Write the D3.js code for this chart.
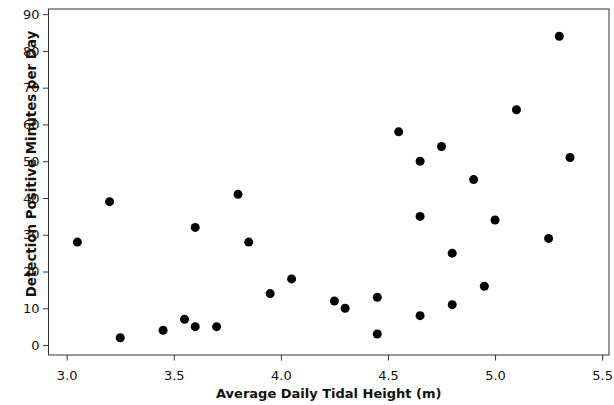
<!DOCTYPE html>
<html>
<head>
<meta charset="utf-8">
<script src="https://cdn.jsdelivr.net/npm/d3@7"></script>
<style>
  html, body { margin: 0; padding: 0; background: #fff; }
  svg { display: block; }
  .tick text { font-family: "DejaVu Sans", Verdana, sans-serif; font-size: 13px; fill: #111; }
  .title { font-family: "DejaVu Sans", Verdana, sans-serif; font-size: 13px; font-weight: bold; fill: #111; }
</style>
</head>
<body>
<script>
// Data
const tidalHeight = [3.05, 3.20, 3.25, 3.45, 3.55, 3.60, 3.60, 3.70, 3.80, 3.85,
                     3.95, 4.05, 4.25, 4.30, 4.45, 4.45, 4.55, 4.65, 4.65, 4.65,
                     4.75, 4.80, 4.80, 4.90, 4.95, 5.00, 5.10, 5.25, 5.30, 5.35];
const detectionMinutes = [28, 39, 2, 4, 7, 32, 5, 5, 41, 28,
                          14, 18, 12, 10, 13, 3, 58, 50, 35, 8,
                          54, 25, 11, 45, 16, 34, 64, 29, 84, 51];
const xTicks = [3.0, 3.5, 4.0, 4.5, 5.0, 5.5];
const yTicks = [0, 10, 20, 30, 40, 50, 60, 70, 80, 90];
const xTitle = "Average Daily Tidal Height (m)";
const yTitle = "Detection Positive Minutes per Day";

const W = 614, H = 405;
const pLeft = 48.5, pRight = 609, pTop = 9, pBottom = 355;

const svg = d3.select("body").append("svg").attr("width", W).attr("height", H);

const x = d3.scaleLinear().domain([2.915, 5.532]).range([pLeft, pRight]);
const y = d3.scaleLinear().domain([-2.7, 91.4]).range([pBottom, pTop]);

// frame
svg.append("rect")
  .attr("x", pLeft).attr("y", pTop)
  .attr("width", pRight - pLeft).attr("height", pBottom - pTop)
  .attr("fill", "none").attr("stroke", "#333").attr("stroke-width", 1);

const xAxis = svg.append("g")
  .attr("transform", `translate(0,${pBottom})`)
  .call(d3.axisBottom(x).tickValues(xTicks).tickFormat(d3.format(".1f")).tickSize(5.5).tickPadding(10.5));
xAxis.select(".domain").remove();
xAxis.selectAll(".tick line").attr("stroke", "#333");

const yAxis = svg.append("g")
  .attr("transform", `translate(${pLeft},0)`)
  .call(d3.axisLeft(y).tickValues(yTicks).tickFormat(d3.format("d")).tickSize(5.5).tickPadding(3.5));
yAxis.select(".domain").remove();
yAxis.selectAll(".tick line").attr("stroke", "#333");

// points
svg.append("g").selectAll("circle")
  .data(tidalHeight.map((d, i) => [d, detectionMinutes[i]]))
  .join("circle")
  .attr("cx", d => x(d[0]))
  .attr("cy", d => y(d[1]))
  .attr("r", 4.5)
  .attr("fill", "#000");

// titles
svg.append("text").attr("class", "title")
  .attr("x", (pLeft + pRight) / 2).attr("y", 398)
  .attr("text-anchor", "middle")
  .text(xTitle);

svg.append("text").attr("class", "title")
  .attr("transform", "translate(36,164) rotate(-90)")
  .attr("text-anchor", "middle")
  .style("font-size", "13.4px")
  .text(yTitle);
</script>
</body>
</html>
